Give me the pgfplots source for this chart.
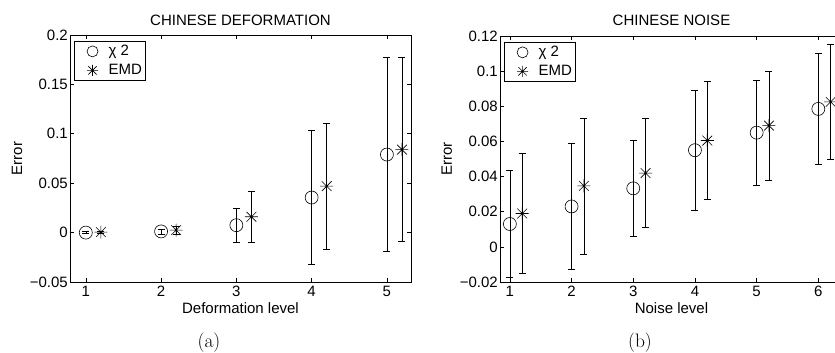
\documentclass[border=0pt]{standalone}
\usepackage{fontspec}
\usepackage{pgfplots}
\pgfplotsset{compat=1.18}
\newfontfamily\arial{Liberation Sans}
\newcommand{\figfont}{\arial\fontsize{15}{17}\selectfont}

% MATLAB style asterisk: + and x together
\pgfdeclareplotmark{mstar}{%
  \pgfpathmoveto{\pgfqpoint{-\pgfplotmarksize}{0pt}}%
  \pgfpathlineto{\pgfqpoint{\pgfplotmarksize}{0pt}}%
  \pgfpathmoveto{\pgfqpoint{0pt}{-\pgfplotmarksize}}%
  \pgfpathlineto{\pgfqpoint{0pt}{\pgfplotmarksize}}%
  \pgfpathmoveto{\pgfqpoint{-0.75\pgfplotmarksize}{-0.75\pgfplotmarksize}}%
  \pgfpathlineto{\pgfqpoint{0.75\pgfplotmarksize}{0.75\pgfplotmarksize}}%
  \pgfpathmoveto{\pgfqpoint{-0.75\pgfplotmarksize}{0.75\pgfplotmarksize}}%
  \pgfpathlineto{\pgfqpoint{0.75\pgfplotmarksize}{-0.75\pgfplotmarksize}}%
  \pgfusepathqstroke}

\pgfplotsset{
  matfig/.style={
    scale only axis,
    anchor=south west,
    font=\figfont,
    axis line style={line width=0.9pt},
    tick align=inside,
    major tick length=4pt,
    tick style={black, line width=0.6pt},
    /pgf/number format/assume math mode=true,
    ticklabel style={font=\figfont},
    xticklabel style={inner sep=1pt, yshift=-3pt},
    yticklabel style={inner sep=1pt, xshift=-1pt},
    every axis title shift=0pt,
    title style={anchor=center, font=\figfont},
    xlabel style={anchor=center, font=\figfont},
    ylabel style={anchor=center, font=\figfont},
    legend cell align=left,
    legend style={at={(axis description cs:0.012,0.976)}, anchor=north west,
      draw=black, line width=0.9pt, inner xsep=1pt, inner ysep=0.5pt,
      row sep=0pt, column sep=0pt, font=\figfont,
      nodes={draw=none, inner xsep=3pt, inner ysep=0pt}},
    legend image code/.code={%
      \path[draw=none] (0pt,-9.5pt) rectangle (30pt,9.5pt);
      \draw[##1, mark options={mark size=5.5pt}] plot coordinates {(17pt,0pt)};},
  },
  chi/.style={only marks, mark=o, black, line width=0.6pt,
    mark options={mark size=6.5pt},
    error bars/.cd, y dir=both, y explicit,
    error bar style={line width=0.6pt, black},
    error mark options={rotate=90, mark size=3.5pt, line width=0.6pt}},
  emd/.style={only marks, mark=mstar, black, line width=0.6pt,
    mark options={mark size=6.5pt},
    error bars/.cd, y dir=both, y explicit,
    error bar style={line width=0.6pt, black},
    error mark options={rotate=90, mark size=3.5pt, line width=0.6pt}},
}

\begin{document}
\begin{tikzpicture}
% (a) deformation
\begin{axis}[matfig,
  at={(70pt,71pt)}, width=341pt, height=247pt,
  xmin=0.79, xmax=5.32, ymin=-0.05, ymax=0.2,
  xtick={1,2,3,4,5},
  ytick={-0.05,0,0.05,0.1,0.15,0.2},
  yticklabels={−0.05,0,0.05,0.1,0.15,0.2},
  title={CHINESE DEFORMATION},
  title style={at={(axis description cs:0.5,1.061)}},
  xlabel={Deformation level},
  xlabel style={at={(axis description cs:0.5,-0.105)}},
  ylabel={Error},
  ylabel style={at={(axis description cs:-0.155,0.5)}},
  ]
  \addplot[chi] coordinates {
    (1,0.0000) +- (0,0.0012)
    (2,0.0012) +- (0,0.0025)
    (3,0.0075) +- (0,0.0170)
    (4,0.0355) +- (0,0.0680)
    (5,0.0790) +- (0,0.0980)
  };
  \addlegendentry{χ 2}
  \addplot[emd] coordinates {
    (1.2,0.0005) +- (0,0.0012)
    (2.2,0.0025) +- (0,0.0040)
    (3.2,0.0160) +- (0,0.0260)
    (4.2,0.0470) +- (0,0.0640)
    (5.2,0.0840) +- (0,0.0930)
  };
  \addlegendentry{EMD}
\end{axis}

% (b) noise
\begin{axis}[matfig,
  at={(500pt,71pt)}, width=343pt, height=246pt,
  xmin=0.84, xmax=6.4, ymin=-0.02, ymax=0.12,
  xtick={1,2,3,4,5,6},
  ytick={-0.02,0,0.02,0.04,0.06,0.08,0.1,0.12},
  yticklabels={−0.02,0,0.02,0.04,0.06,0.08,0.1,0.12},
  title={CHINESE NOISE},
  title style={at={(axis description cs:0.5,1.065)}},
  xlabel={Noise level},
  xlabel style={at={(axis description cs:0.5,-0.106)}},
  ylabel={Error},
  ylabel style={at={(axis description cs:-0.155,0.5)}},
  ]
  \addplot[chi] coordinates {
    (1,0.0130) +- (0,0.0305)
    (2,0.0230) +- (0,0.0360)
    (3,0.0333) +- (0,0.0274)
    (4,0.0550) +- (0,0.0340)
    (5,0.0650) +- (0,0.0300)
    (6,0.0785) +- (0,0.0315)
  };
  \addlegendentry{χ 2}
  \addplot[emd] coordinates {
    (1.2,0.0190) +- (0,0.0340)
    (2.2,0.0347) +- (0,0.0387)
    (3.2,0.0420) +- (0,0.0310)
    (4.2,0.0605) +- (0,0.0337)
    (5.2,0.0690) +- (0,0.0310)
    (6.2,0.0825) +- (0,0.0325)
  };
  \addlegendentry{EMD}
\end{axis}

\node[font=\fontsize{19.5}{23}\selectfont] at (209pt,10pt) {(a)};
\node[font=\fontsize{19.5}{23}\selectfont] at (640pt,10pt) {(b)};

\pgfresetboundingbox
\useasboundingbox (0,0) rectangle (835pt,353pt);
\end{tikzpicture}
\end{document}
